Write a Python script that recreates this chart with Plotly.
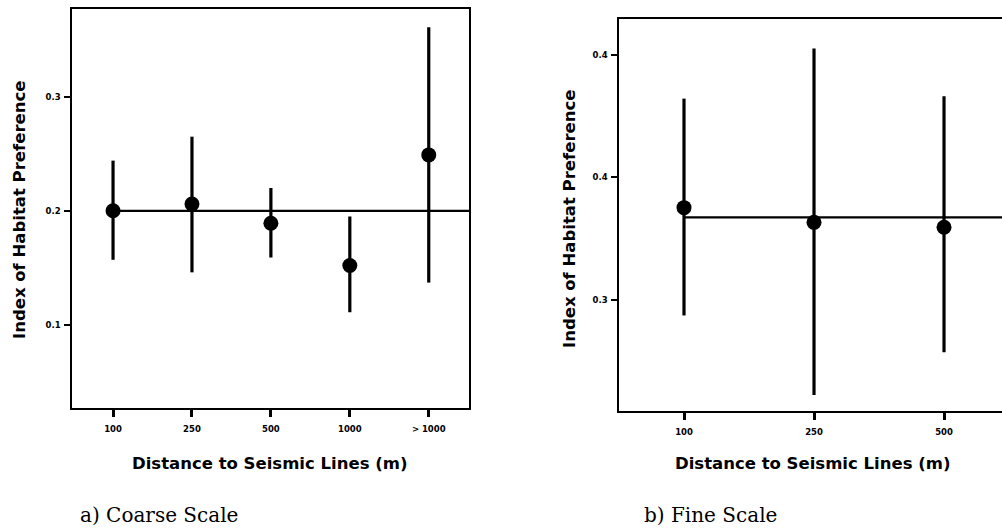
import plotly.graph_objects as go

# ---- data ----
coarse_cats = ["100", "250", "500", "1000", "> 1000"]
coarse_mean = [0.200, 0.206, 0.189, 0.152, 0.249]
coarse_upper = [0.244, 0.265, 0.220, 0.195, 0.361]
coarse_lower = [0.157, 0.146, 0.159, 0.111, 0.137]
coarse_ref = 0.200

fine_cats = ["100", "250", "500"]
fine_mean = [0.375, 0.363, 0.359]
fine_upper = [0.464, 0.505, 0.466]
fine_lower = [0.287, 0.222, 0.257]
fine_ref = 0.367

coarse_yticks = [0.1, 0.2, 0.3]
coarse_yticktext = ["0.1", "0.2", "0.3"]
fine_yticks = [0.3, 0.4, 0.5]
fine_yticktext = ["0.3", "0.4", "0.4"]

x_title = "Distance to Seismic Lines (m)"
y_title = "Index of Habitat Preference"

W, H = 1002, 529


def px_x(p):
    return p / W


def px_y(p):
    return 1 - p / H


fig = go.Figure()

TICKFONT = dict(family="DejaVu Sans", size=8.5, color="black", weight="bold")

# coarse panel
fig.add_trace(go.Scatter(
    x=coarse_cats, y=coarse_mean, mode="markers",
    marker=dict(size=15, color="black"),
    error_y=dict(type="data", symmetric=False,
                 array=[u - m for u, m in zip(coarse_upper, coarse_mean)],
                 arrayminus=[m - l for m, l in zip(coarse_mean, coarse_lower)],
                 thickness=3.2, width=0, color="black"),
    xaxis="x", yaxis="y", showlegend=False))

# fine panel
fig.add_trace(go.Scatter(
    x=fine_cats, y=fine_mean, mode="markers",
    marker=dict(size=15, color="black"),
    error_y=dict(type="data", symmetric=False,
                 array=[u - m for u, m in zip(fine_upper, fine_mean)],
                 arrayminus=[m - l for m, l in zip(fine_mean, fine_lower)],
                 thickness=3.2, width=0, color="black"),
    xaxis="x2", yaxis="y2", showlegend=False))

coarse_xrange = [-0.52, 4.51]
fine_xrange = [-0.5, 2.446]

fig.add_shape(type="line", xref="x", yref="y", x0=0, x1=coarse_xrange[1],
              y0=coarse_ref, y1=coarse_ref, line=dict(color="black", width=2.2))
fig.add_shape(type="line", xref="x2", yref="y2", x0=0, x1=fine_xrange[1],
              y0=fine_ref, y1=fine_ref, line=dict(color="black", width=2.2))

common_x = dict(type="category", showline=True, linecolor="black", linewidth=2,
                mirror=True, ticks="outside", ticklen=7, tickwidth=2.5,
                tickcolor="black", showgrid=False, zeroline=False,
                tickfont=TICKFONT, ticklabelstandoff=5, fixedrange=True)
common_y = dict(showline=True, linecolor="black", linewidth=1.5,
                ticks="outside", ticklen=6, tickwidth=2, tickcolor="black",
                showgrid=False, zeroline=False, tickfont=TICKFONT,
                ticklabelstandoff=2, fixedrange=True)

fig.update_layout(
    width=W, height=H,
    margin=dict(l=0, r=0, t=0, b=0),
    paper_bgcolor="white", plot_bgcolor="white",
    xaxis=dict(**common_x, domain=[px_x(72), px_x(469)], range=coarse_xrange,
               anchor="y", categoryorder="array", categoryarray=coarse_cats),
    yaxis=dict(**common_y, domain=[px_y(408), px_y(9)], range=[0.027, 0.377],
               anchor="x", mirror=True, tickvals=coarse_yticks,
               ticktext=coarse_yticktext),
    xaxis2=dict(**common_x, domain=[px_x(619), 1.0], range=fine_xrange,
                anchor="y2", categoryorder="array", categoryarray=fine_cats),
    yaxis2=dict(**common_y, domain=[px_y(411), px_y(19)], range=[0.209, 0.529],
                anchor="x2", mirror=False, tickvals=fine_yticks,
                ticktext=fine_yticktext),
)

TITLEFONT = dict(family="DejaVu Sans", size=16.5, color="black", weight="bold")
CAPFONT = dict(family="DejaVu Serif", size=20, color="black")

anns = [
    dict(text=x_title, x=px_x(270), y=px_y(463), font=TITLEFONT),
    dict(text=x_title, x=px_x(813), y=px_y(463), font=TITLEFONT),
    dict(text=y_title, x=px_x(19), y=px_y(210), font=TITLEFONT, textangle=-90),
    dict(text=y_title, x=px_x(570), y=px_y(219), font=TITLEFONT, textangle=-90),
    dict(text="a) Coarse Scale", x=px_x(78), y=px_y(515), font=CAPFONT, xanchor="left"),
    dict(text="b) Fine Scale", x=px_x(642), y=px_y(515), font=CAPFONT, xanchor="left"),
]
for a in anns:
    a.setdefault("xanchor", "center")
    fig.add_annotation(xref="paper", yref="paper", showarrow=False,
                       yanchor="middle", **a)

fig.write_html("out.html")
